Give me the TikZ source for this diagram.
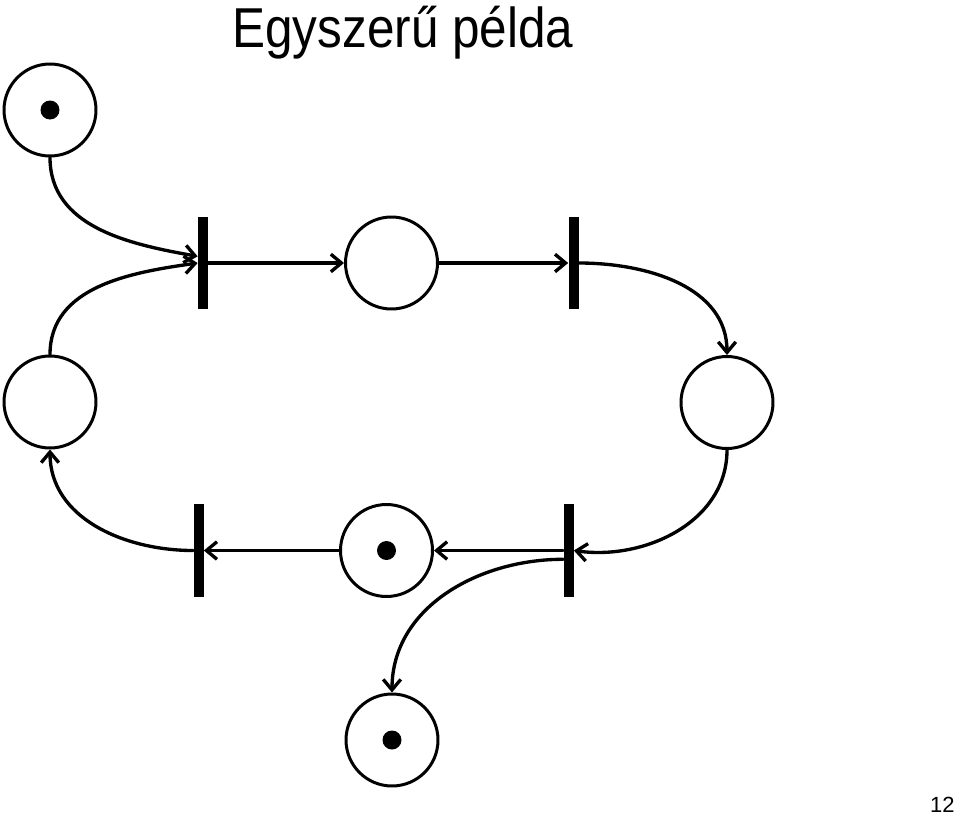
\documentclass[tikz,border=0pt]{standalone}
\usepackage{fontspec}
\setmainfont{Liberation Sans}
\newfontfamily\titlefont[FakeStretch=0.88]{Liberation Sans}
\usepackage{tikz}
\usetikzlibrary{arrows.meta}
\tikzset{
  place/.style={circle, draw, line width=1.7pt, minimum size=1.84cm, inner sep=0pt},
  tokenDot/.style={circle, fill=black, minimum size=0.38cm, inner sep=0pt},
  transBar/.style={rectangle, fill=black, minimum width=0.2cm, minimum height=1.86cm, inner sep=0pt},
  arcArrow/.style={line width=1.9pt, line join=round, line cap=round, -{Straight Barb[length=6pt,width=10pt,line width=1.9pt]}}
}
\newcommand{\PutToken}[1]{\node[tokenDot] (#1tok) at (#1) {};}

\begin{document}
\begin{tikzpicture}[x=0.02cm, y=-0.02cm]
  \useasboundingbox (0,0) rectangle (960,815);
  % title and page number
  \node[anchor=base west, inner sep=0pt, font=\titlefont\fontsize{32}{36}\selectfont] (title) at (232,47) {Egyszerű példa};
  \node[anchor=base east, inner sep=0pt, font=\fontsize{12.5}{14}\selectfont] (pagenum) at (955,812) {12};
  % places
  \node[place] (P1) at (50,110) {};
  \node[place] (P2) at (391.5,263) {};
  \node[place] (P3) at (50,402) {};
  \node[place] (P4) at (727,402.5) {};
  \node[place] (P5) at (386.5,550.5) {};
  \node[place] (P6) at (392,740) {};
  \PutToken{P1}
  \PutToken{P5}
  \PutToken{P6}
  % transitions
  \node[transBar] (T1) at (203,263) {};
  \node[transBar] (T2) at (573.5,263) {};
  \node[transBar] (T3) at (198.5,550.5) {};
  \node[transBar] (T4) at (568.5,550.5) {};
  % arcs
  \draw[arcArrow] (P1.south) to[out=-90, in=170] ([yshift=3.8pt]T1.west);
  \draw[arcArrow] (P3.north) to[out=90, in=188] (T1.west);
  \draw[arcArrow] (T1.east) -- (P2.west);
  \draw[arcArrow] (P2.east) -- (T2.west);
  \draw[arcArrow] (T2.east) to[out=0, in=90] (P4.north);
  \draw[arcArrow] (P4.south) to[out=-90, in=-8] (T4.east);
  \draw[arcArrow] (T4.west) -- (P5.east);
  \draw[arcArrow] (P5.west) -- (T3.east);
  \draw[arcArrow] (T3.west) to[out=180, in=-90] (P3.south);
  \draw[arcArrow] ([yshift=-5pt]T4.west) to[out=180, in=90] (P6.north);
\end{tikzpicture}
\end{document}
